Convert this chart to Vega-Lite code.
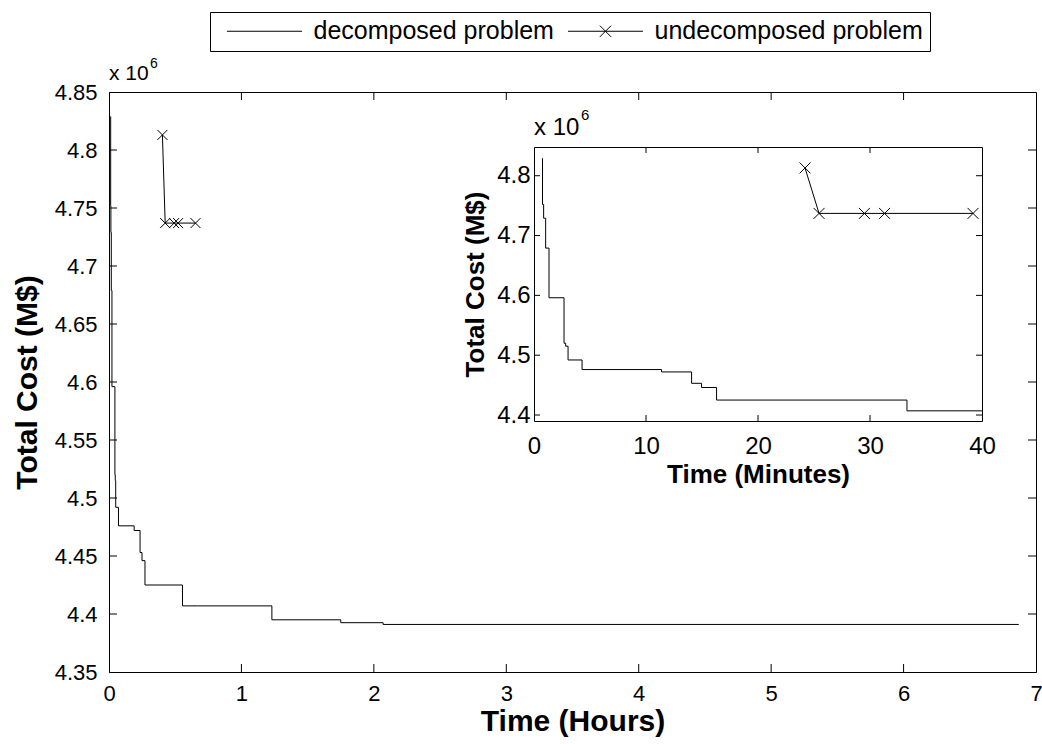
{
  "$schema": "https://vega.github.io/schema/vega-lite/v6.json",
  "width": 927,
  "height": 580,
  "autosize": {"type": "none"},
  "padding": {"left": 109, "top": 92, "right": 6, "bottom": 72},
  "background": "white",
  "config": {
    "font": "Liberation Sans",
    "view": {"stroke": "black", "strokeWidth": 1},
    "axis": {"grid": false, "domainColor": "black", "tickColor": "black", "labelColor": "black", "titleColor": "black", "labelFont": "Liberation Sans", "titleFont": "Liberation Sans", "titleFontWeight": "bold", "domainWidth": 1, "labelFlush": false, "labelOverlap": false}
  },
  "datasets": {
    "cost": [
      {"series": "decomposed problem", "hours": 0.0124, "minutes": 0.745, "cost": 4.829},
      {"series": "decomposed problem", "hours": 0.0127, "minutes": 0.76, "cost": 4.752},
      {"series": "decomposed problem", "hours": 0.0143, "minutes": 0.86, "cost": 4.729},
      {"series": "decomposed problem", "hours": 0.0173, "minutes": 1.04, "cost": 4.679},
      {"series": "decomposed problem", "hours": 0.0223, "minutes": 1.34, "cost": 4.596},
      {"series": "decomposed problem", "hours": 0.0447, "minutes": 2.68, "cost": 4.52},
      {"series": "decomposed problem", "hours": 0.0472, "minutes": 2.83, "cost": 4.515},
      {"series": "decomposed problem", "hours": 0.0507, "minutes": 3.04, "cost": 4.492},
      {"series": "decomposed problem", "hours": 0.0715, "minutes": 4.29, "cost": 4.476},
      {"series": "decomposed problem", "hours": 0.1898, "minutes": 11.39, "cost": 4.472},
      {"series": "decomposed problem", "hours": 0.2345, "minutes": 14.07, "cost": 4.453},
      {"series": "decomposed problem", "hours": 0.2493, "minutes": 14.96, "cost": 4.446},
      {"series": "decomposed problem", "hours": 0.2717, "minutes": 16.3, "cost": 4.425},
      {"series": "decomposed problem", "hours": 0.555, "minutes": 33.3, "cost": 4.407},
      {"series": "decomposed problem", "hours": 0.6667, "minutes": 40, "cost": 4.407},
      {"series": "decomposed problem", "hours": 1.23, "minutes": 73.8, "cost": 4.395},
      {"series": "decomposed problem", "hours": 1.75, "minutes": 105, "cost": 4.3925},
      {"series": "decomposed problem", "hours": 2.07, "minutes": 124.2, "cost": 4.391},
      {"series": "decomposed problem", "hours": 6.87, "minutes": 412.2, "cost": 4.391},
      {"series": "undecomposed problem", "hours": 0.4033, "minutes": 24.2, "cost": 4.813},
      {"series": "undecomposed problem", "hours": 0.4242, "minutes": 25.45, "cost": 4.737},
      {"series": "undecomposed problem", "hours": 0.4917, "minutes": 29.5, "cost": 4.737},
      {"series": "undecomposed problem", "hours": 0.5217, "minutes": 31.3, "cost": 4.737},
      {"series": "undecomposed problem", "hours": 0.6533, "minutes": 39.2, "cost": 4.737}
    ],
    "mainXTicks": [{"v": 1}, {"v": 2}, {"v": 3}, {"v": 4}, {"v": 5}, {"v": 6}],
    "mainYTicks": [{"v": 4.4}, {"v": 4.45}, {"v": 4.5}, {"v": 4.55}, {"v": 4.6}, {"v": 4.65}, {"v": 4.7}, {"v": 4.75}, {"v": 4.8}],
    "insetXTicks": [{"v": 10}, {"v": 20}, {"v": 30}],
    "insetYTicks": [{"v": 4.4}, {"v": 4.5}, {"v": 4.6}, {"v": 4.7}, {"v": 4.8}]
  },
  "data": {"name": "cost"},
  "layer": [
    {
      "layer": [
        {
          "transform": [{"filter": "datum.series == 'decomposed problem'"}],
          "mark": {"type": "line", "interpolate": "step-after", "color": "black", "strokeWidth": 1},
          "encoding": {
            "x": {"field": "hours", "type": "quantitative", "scale": {"domain": [0, 7], "nice": false, "zero": false},
                  "axis": {"orient": "bottom", "title": "Time (Hours)", "values": [0, 1, 2, 3, 4, 5, 6, 7], "format": "d", "labelFontSize": 22, "titleFontSize": 30, "ticks": false, "tickSize": 0, "labelPadding": 11, "titlePadding": 2}},
            "y": {"field": "cost", "type": "quantitative", "scale": {"domain": [4.35, 4.85], "nice": false, "zero": false},
                  "axis": {"orient": "left", "title": "Total Cost (M$)", "values": [4.35, 4.4, 4.45, 4.5, 4.55, 4.6, 4.65, 4.7, 4.75, 4.8, 4.85], "format": ".2~f", "labelFontSize": 22, "titleFontSize": 30, "ticks": false, "tickSize": 0, "labelPadding": 12, "titlePadding": 12}}
          }
        },
        {
          "transform": [{"filter": "datum.series == 'undecomposed problem'"}],
          "mark": {"type": "line", "color": "black", "strokeWidth": 1},
          "encoding": {"x": {"field": "hours", "type": "quantitative"}, "y": {"field": "cost", "type": "quantitative"}}
        },
        {
          "transform": [{"filter": "datum.series == 'undecomposed problem'"}],
          "mark": {"type": "point", "shape": "M-1,-1L1,1M-1,1L1,-1", "filled": false, "color": "black", "size": 100, "strokeWidth": 1, "opacity": 1},
          "encoding": {"x": {"field": "hours", "type": "quantitative"}, "y": {"field": "cost", "type": "quantitative"}}
        },
        {
          "mark": {"type": "point", "filled": false, "opacity": 0},
          "encoding": {
            "x": {"field": "hours", "type": "quantitative"},
            "y": {"field": "cost", "type": "quantitative"},
            "shape": {"field": "series", "type": "nominal",
              "scale": {"domain": ["decomposed problem", "undecomposed problem"], "range": ["M-0.27,0H9.73", "M-0.27,0H9.73M3.98,-0.75L5.48,0.75M3.98,0.75L5.48,-0.75"]},
              "legend": {"orient": "none", "legendX": 101, "legendY": -80, "direction": "horizontal", "title": null, "strokeColor": "black", "fillColor": "white", "padding": 6.5, "labelFontSize": 25, "labelFont": "Liberation Sans", "labelColor": "black", "labelLimit": 0, "symbolSize": 225, "symbolStrokeWidth": 1, "symbolStrokeColor": "black", "symbolFillColor": "transparent", "symbolOpacity": 1, "labelOffset": 72, "columnPadding": 3}}
          }
        },
        {
          "data": {"name": "mainXTicks"},
          "mark": {"type": "tick", "orient": "vertical", "size": 8, "thickness": 1, "color": "black", "opacity": 1, "yOffset": -4},
          "encoding": {"x": {"field": "v", "type": "quantitative"}, "y": {"datum": 4.35, "type": "quantitative"}}
        },
        {
          "data": {"name": "mainXTicks"},
          "mark": {"type": "tick", "orient": "vertical", "size": 8, "thickness": 1, "color": "black", "opacity": 1, "yOffset": 4},
          "encoding": {"x": {"field": "v", "type": "quantitative"}, "y": {"datum": 4.85, "type": "quantitative"}}
        },
        {
          "data": {"name": "mainYTicks"},
          "mark": {"type": "tick", "orient": "horizontal", "size": 8, "thickness": 1, "color": "black", "opacity": 1, "xOffset": 4},
          "encoding": {"y": {"field": "v", "type": "quantitative"}, "x": {"datum": 0, "type": "quantitative"}}
        },
        {
          "data": {"name": "mainYTicks"},
          "mark": {"type": "tick", "orient": "horizontal", "size": 8, "thickness": 1, "color": "black", "opacity": 1, "xOffset": -4},
          "encoding": {"y": {"field": "v", "type": "quantitative"}, "x": {"datum": 7, "type": "quantitative"}}
        },
        {
          "data": {"values": [{"label": "x 10", "power": "6"}]},
          "mark": {"type": "text", "align": "left", "baseline": "alphabetic", "dy": -12, "fontSize": 21, "color": "black"},
          "encoding": {"x": {"datum": 0, "type": "quantitative"}, "y": {"datum": 4.85, "type": "quantitative"}, "text": {"field": "label"}}
        },
        {
          "data": {"values": [{"label": "x 10", "power": "6"}]},
          "mark": {"type": "text", "align": "left", "baseline": "alphabetic", "dx": 41, "dy": -24, "fontSize": 14, "color": "black"},
          "encoding": {"x": {"datum": 0, "type": "quantitative"}, "y": {"datum": 4.85, "type": "quantitative"}, "text": {"field": "power"}}
        }
      ]
    },
    {
      "layer": [
        {
          "transform": [{"filter": "datum.series == 'decomposed problem' && datum.minutes <= 40"}],
          "mark": {"type": "line", "interpolate": "step-after", "color": "black", "strokeWidth": 1},
          "encoding": {
            "x": {"field": "minutes", "type": "quantitative", "scale": {"domain": [0, 40], "range": [425, 873], "nice": false, "zero": false},
                  "axis": {"orient": "bottom", "offset": -251, "title": "Time (Minutes)", "values": [0, 10, 20, 30, 40], "format": "d", "labelFontSize": 24, "titleFontSize": 26, "ticks": false, "tickSize": 0, "labelPadding": 13, "titlePadding": 3}},
            "y": {"field": "cost", "type": "quantitative", "scale": {"domain": [4.39, 4.848], "range": [329, 55], "nice": false, "zero": false},
                  "axis": {"orient": "left", "offset": -425, "title": "Total Cost (M$)", "values": [4.4, 4.5, 4.6, 4.7, 4.8], "format": ".1f", "labelFontSize": 24, "titleFontSize": 26, "ticks": false, "tickSize": 0, "labelPadding": 4, "titlePadding": 8}}
          }
        },
        {
          "transform": [{"filter": "datum.series == 'undecomposed problem' && datum.minutes <= 40"}],
          "mark": {"type": "line", "color": "black", "strokeWidth": 1},
          "encoding": {"x": {"field": "minutes", "type": "quantitative"}, "y": {"field": "cost", "type": "quantitative"}}
        },
        {
          "transform": [{"filter": "datum.series == 'undecomposed problem' && datum.minutes <= 40"}],
          "mark": {"type": "point", "shape": "M-1,-1L1,1M-1,1L1,-1", "filled": false, "color": "black", "size": 120, "strokeWidth": 1, "opacity": 1},
          "encoding": {"x": {"field": "minutes", "type": "quantitative"}, "y": {"field": "cost", "type": "quantitative"}}
        },
        {
          "data": {"name": "insetXTicks"},
          "mark": {"type": "tick", "orient": "vertical", "size": 6, "thickness": 1, "color": "black", "opacity": 1, "yOffset": -3},
          "encoding": {"x": {"field": "v", "type": "quantitative"}, "y": {"datum": 4.39, "type": "quantitative"}}
        },
        {
          "data": {"name": "insetXTicks"},
          "mark": {"type": "tick", "orient": "vertical", "size": 6, "thickness": 1, "color": "black", "opacity": 1, "yOffset": 3},
          "encoding": {"x": {"field": "v", "type": "quantitative"}, "y": {"datum": 4.848, "type": "quantitative"}}
        },
        {
          "data": {"name": "insetYTicks"},
          "mark": {"type": "tick", "orient": "horizontal", "size": 6, "thickness": 1, "color": "black", "opacity": 1, "xOffset": 3},
          "encoding": {"y": {"field": "v", "type": "quantitative"}, "x": {"datum": 0, "type": "quantitative"}}
        },
        {
          "data": {"name": "insetYTicks"},
          "mark": {"type": "tick", "orient": "horizontal", "size": 6, "thickness": 1, "color": "black", "opacity": 1, "xOffset": -3},
          "encoding": {"y": {"field": "v", "type": "quantitative"}, "x": {"datum": 40, "type": "quantitative"}}
        },
        {
          "data": {"values": [{"label": "x 10", "power": "6"}]},
          "mark": {"type": "text", "align": "left", "baseline": "alphabetic", "dy": -12, "fontSize": 24, "color": "black"},
          "encoding": {"x": {"datum": 0, "type": "quantitative"}, "y": {"datum": 4.848, "type": "quantitative"}, "text": {"field": "label"}}
        },
        {
          "data": {"values": [{"label": "x 10", "power": "6"}]},
          "mark": {"type": "text", "align": "left", "baseline": "alphabetic", "dx": 47, "dy": -27, "fontSize": 15, "color": "black"},
          "encoding": {"x": {"datum": 0, "type": "quantitative"}, "y": {"datum": 4.848, "type": "quantitative"}, "text": {"field": "power"}}
        }
      ]
    },
    {
      "mark": {"type": "line", "opacity": 0},
      "transform": [{"filter": "datum.minutes <= 40"}],
      "encoding": {
        "x": {"field": "minutes", "type": "quantitative", "scale": {"domain": [0, 40], "range": [425, 873], "nice": false, "zero": false},
              "axis": {"orient": "bottom", "offset": -525, "labels": false, "title": null, "domain": true, "ticks": false}},
        "y": {"field": "cost", "type": "quantitative", "scale": {"domain": [4.39, 4.848], "range": [329, 55], "nice": false, "zero": false},
              "axis": {"orient": "left", "offset": -873, "labels": false, "title": null, "domain": true, "ticks": false}}
      }
    }
  ],
  "resolve": {"scale": {"x": "independent", "y": "independent", "shape": "independent"}, "axis": {"x": "independent", "y": "independent"}}
}
